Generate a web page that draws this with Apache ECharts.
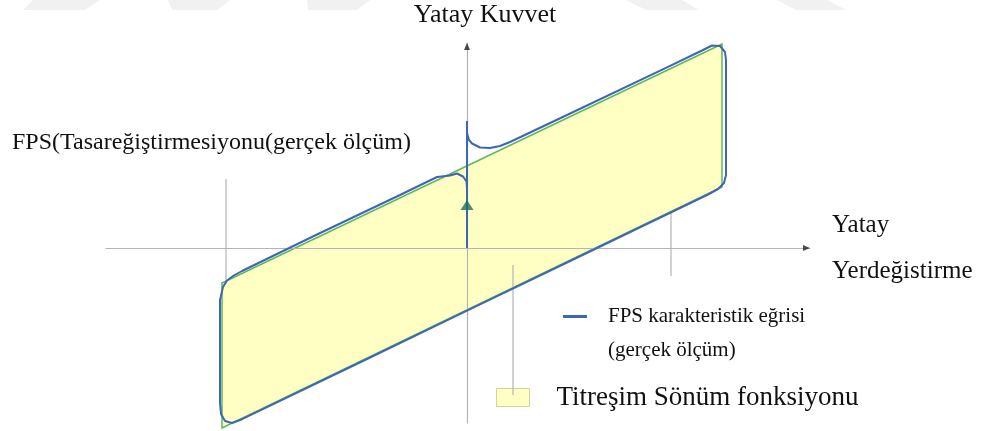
<!DOCTYPE html>
<html>
<head>
<meta charset="utf-8">
<script src="https://cdn.jsdelivr.net/npm/echarts@6/dist/echarts.min.js"></script>
<style>
  html, body { margin: 0; padding: 0; background: #fff; }
  #chart { width: 994px; height: 431px; }
</style>
</head>
<body>
<div id="chart"></div>
<script>
// axis range (displacement / force, arbitrary units)
var xRange = [-36.1, 34.3]
var yRange = [-17.5, 20.5]

// vibration damping function: parallelogram vertices
var dampVertices = [[-24.5, -3.5], [25.5, 20.4], [25.5, 6.1], [-24.5, -18.0]]

// FPS characteristic curve (measured): initial loading branch
var fpsInitial = [[0, 0], [0, 12.7]]

// FPS characteristic curve (measured): hysteresis loop
var fpsLoop = [
  [0, 12.7], [0, 11.5], [0.2, 10.8], [0.5, 10.45], [1.3, 10.05], [2.3, 10.0],
  [3.3, 10.2], [4.3, 10.6], [10, 13.3], [20, 18.07], [23.5, 19.75],
  [24.5, 20.25], [25.3, 20.2], [25.8, 19.6], [25.9, 18.8],
  [25.9, 7.3], [25.7, 6.5], [25.1, 5.9], [24.1, 5.35],
  [10, -1.45], [0, -6.27], [-10, -11.1], [-22.5, -17.12],
  [-23.5, -17.5], [-24.2, -17.3], [-24.6, -16.6], [-24.7, -15.5],
  [-24.7, -5.2], [-24.4, -3.9], [-24.0, -3.25], [-23.4, -2.8], [-22.5, -2.3],
  [-15, 1.35], [-6.7, 5.3], [-3.0, 7.1], [-1.7, 7.25], [-1.0, 7.45],
  [-0.4, 7.15], [-0.05, 6.65], [0, 5.9], [0, 0]
]

// gray guide lines
var guideLeft = [[-24.1, 6.9], [-24.1, -12]]
var guideRight = [[20.4, 9], [20.4, -2.8]]
var leaderLine = [[4.6, -1.7], [4.6, -14.7]]

// loading direction arrow
var loadArrow = [[0, 4.3]]

var serif = "'Liberation Serif', 'Times New Roman', serif"
var BLUE = '#3e66b4'
var GREEN = '#5cb85c'
var FILL = '#ffffc4'
var GRAY = '#b4b4b4'
var WM = '#f1f1f1'

var dom = echarts.init(document.getElementById('chart'))

var option = {
  animation: false,
  title: {
    text: 'FPS(Tasareğiştirmesiyonu(gerçek ölçüm)',
    left: 12,
    top: 131,
    padding: 0,
    textStyle: { fontFamily: serif, fontSize: 24, fontWeight: 'normal', color: '#111' }
  },
  legend: [
    {
      data: [{ name: 'FPS karakteristik eğrisi', icon: 'rect' }],
      left: 563,
      top: 306,
      padding: 0,
      itemWidth: 24,
      itemHeight: 3,
      textStyle: { fontFamily: serif, fontSize: 21, color: '#111', padding: [8, 0, 0, 16] },
      selectedMode: false
    },
    {
      data: [{
        name: 'Titreşim Sönüm fonksiyonu',
        icon: 'rect',
        itemStyle: { color: FILL, borderColor: '#d2d29a', borderWidth: 1 }
      }],
      left: 496,
      top: 384,
      padding: 0,
      itemWidth: 33,
      itemHeight: 18,
      textStyle: { fontFamily: serif, fontSize: 27, color: '#111', padding: [8, 0, 0, 22] },
      selectedMode: false
    }
  ],
  graphic: [
    { type: 'polygon', silent: true, z: -1, shape: { points: [[33, 0], [100, 0], [85, 10], [23, 10]] }, style: { fill: WM } },
    { type: 'polygon', silent: true, z: -1, shape: { points: [[168, 0], [230, 0], [217, 10], [172, 10]] }, style: { fill: WM } },
    { type: 'polygon', silent: true, z: -1, shape: { points: [[307, 0], [370, 0], [357, 10], [308, 10]] }, style: { fill: WM } },
    { type: 'polygon', silent: true, z: -1, shape: { points: [[626, 0], [682, 0], [699, 10], [646, 10]] }, style: { fill: WM } },
    { type: 'polygon', silent: true, z: -1, shape: { points: [[777, 0], [827, 0], [846, 10], [796, 10]] }, style: { fill: WM } },
    {
      type: 'text',
      left: 608,
      top: 340,
      style: { text: '(gerçek ölçüm)', font: '21px ' + serif, fill: '#111' }
    }
  ],
  grid: { left: 106, right: 184, top: 43, bottom: 8 },
  xAxis: {
    type: 'value',
    min: xRange[0],
    max: xRange[1],
    z: 3,
    name: 'Yatay\nYerdeğistirme',
    nameLocation: 'end',
    nameGap: 22,
    nameTextStyle: {
      fontFamily: serif, fontSize: 25, color: '#111',
      align: 'left', verticalAlign: 'middle', lineHeight: 46, padding: [0, 0, 6, 0]
    },
    axisLine: { onZero: true, lineStyle: { color: GRAY, width: 1.2 } },
    axisTick: { show: false },
    axisLabel: { show: false },
    splitLine: { show: false }
  },
  yAxis: {
    type: 'value',
    min: yRange[0],
    max: yRange[1],
    z: 3,
    name: 'Yatay Kuvvet',
    nameLocation: 'end',
    nameGap: 28,
    nameTextStyle: {
      fontFamily: serif, fontSize: 26, color: '#111',
      align: 'center', verticalAlign: 'middle', padding: [0, 0, 0, 36]
    },
    axisLine: { onZero: true, lineStyle: { color: GRAY, width: 1.2 } },
    axisTick: { show: false },
    axisLabel: { show: false },
    splitLine: { show: false }
  },
  series: [
    {
      type: 'line', data: guideLeft, z: 1, symbol: 'none', silent: true,
      lineStyle: { color: GRAY, width: 1.2 }
    },
    {
      type: 'line', data: guideRight, z: 1, symbol: 'none', silent: true,
      lineStyle: { color: GRAY, width: 1.2 }
    },
    {
      name: 'Titreşim Sönüm fonksiyonu',
      type: 'custom',
      z: 2,
      clip: false,
      data: dampVertices,
      itemStyle: { color: FILL },
      renderItem: function (params, api) {
        if (params.dataIndex !== 0) return
        var pts = dampVertices.map(function (p) { return api.coord(p) })
        return {
          type: 'polygon',
          shape: { points: pts },
          style: { fill: FILL, stroke: GREEN, lineWidth: 1.5 }
        }
      }
    },
    {
      type: 'line', data: leaderLine, z: 4, symbol: 'none', silent: true,
      lineStyle: { color: GRAY, width: 1.2 }
    },
    {
      name: 'FPS karakteristik eğrisi',
      type: 'line',
      data: fpsLoop,
      z: 5,
      clip: false,
      symbol: 'none',
      itemStyle: { color: BLUE },
      lineStyle: { color: BLUE, width: 2 }
    },
    {
      type: 'line', data: fpsInitial, z: 5, symbol: 'none', silent: true,
      lineStyle: { color: BLUE, width: 2 }
    },
    {
      type: 'scatter', data: loadArrow, z: 6, silent: true,
      symbol: 'triangle', symbolSize: [13, 10],
      itemStyle: { color: '#1e7060' }
    },
    {
      type: 'scatter', z: 6, silent: true, clip: false,
      data: [[xRange[1] - 0.35, 0]],
      symbol: 'triangle', symbolSize: [6, 7], symbolRotate: -90,
      itemStyle: { color: '#222' }
    },
    {
      type: 'scatter', z: 6, silent: true, clip: false,
      data: [[0, yRange[1] - 0.35]],
      symbol: 'triangle', symbolSize: [6, 7],
      itemStyle: { color: '#222' }
    }
  ]
}

dom.setOption(option)
window.addEventListener('resize', function () { dom.resize() })
</script>
</body>
</html>
